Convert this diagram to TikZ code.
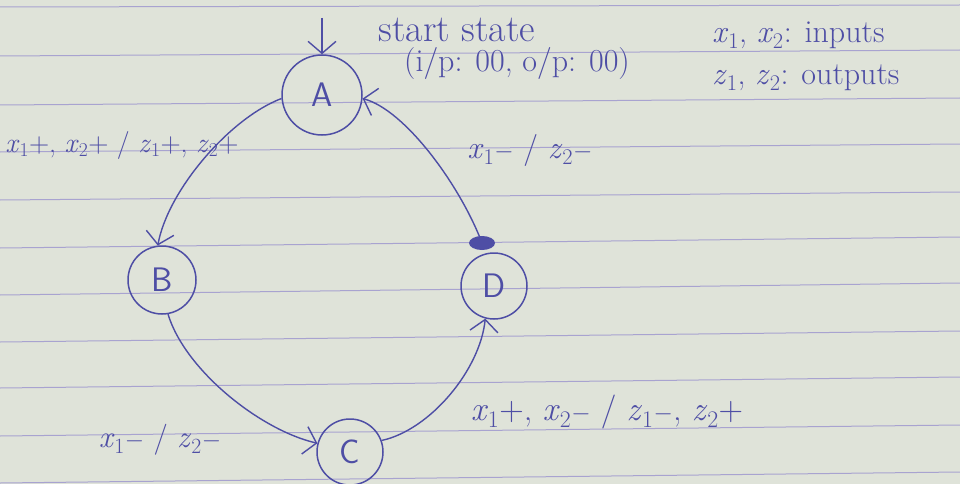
\documentclass[tikz,border=0pt]{standalone}
\usepackage{fontspec}
\usetikzlibrary{arrows.meta}
\definecolor{ink}{RGB}{78,78,165}
\definecolor{paper}{RGB}{223,227,217}
\definecolor{ruling}{RGB}{168,163,208}
\newcommand{\vx}[1]{\textit{x}\textsubscript{#1}}
\newcommand{\vz}[1]{\textit{z}\textsubscript{#1}}
\begin{document}
\begin{tikzpicture}[x=1pt,y=-1pt,
  state/.style={circle,draw=ink,line width=1.5pt,inner sep=0pt,text=ink,
    font=\sffamily\fontsize{34}{34}\selectfont},
  edge/.style={draw=ink,line width=1.4pt,
    -{Straight Barb[length=12pt,width=28pt,line width=1.4pt]}},
  lbl/.style={text=ink,inner sep=0pt,font=\fontsize{28}{32}\selectfont},
  small/.style={text=ink,inner sep=0pt,font=\fontsize{32}{36}\selectfont}]
\fill[paper] (0,0) rectangle (960,484);
\useasboundingbox (0,0) rectangle (960,484);
\foreach \l/\r in {7/5,56/50,105/98,152/144,200/192,248/237,295/283,342/331,388/377,436/425,483/472}
  \draw[ruling,line width=1pt] (0,\l) -- (960,\r);
% states
\node[state,minimum size=80pt] (A) at (322,95) {A};
\node[state,minimum size=68pt] (B) at (162,280) {B};
\node[state,minimum size=66pt] (C) at (350,452) {C};
\node[state,minimum size=66pt] (D) at (494,286) {D};
% start arrow
\coordinate (s) at (322,18);
\draw[edge] (s) -- (A.north);
% transitions
\draw[edge] (A.185) .. controls (230,118) and (168,190) .. (B.97);
\draw[edge] (B.-80) .. controls (185,370) and (260,430) .. (C.165);
\draw[edge] (C.20) .. controls (430,430) and (480,370) .. (D.-105);
\coordinate (blob) at (482,243);
\draw[edge] (blob) .. controls (460,185) and (405,110) .. (A.-5);
\fill[ink] (blob) ellipse [x radius=13pt, y radius=7pt];
% texts
\node[small,font=\fontsize{38}{42}\selectfont] (t1) at (457,30) {start state};
\node[small] (t2) at (517,64) {(i/p: 00, o/p: 00)};
\node[small,anchor=west] (t3) at (712,35) {\vx{1}, \vx{2}: inputs};
\node[small,anchor=west] (t4) at (712,78) {\vz{1}, \vz{2}: outputs};
\node[lbl] (l1) at (122,145) {\vx{1}+, \vx{2}+ / \vz{1}+, \vz{2}+};
\node[lbl,font=\fontsize{32}{36}\selectfont] (l2) at (530,150) {\vx{1}$-$ / \vz{2}$-$};
\node[lbl,font=\fontsize{34}{38}\selectfont] (l3) at (607,412) {\vx{1}+, \vx{2}$-$ / \vz{1}$-$, \vz{2}+};
\node[lbl,font=\fontsize{31}{35}\selectfont] (l4) at (160,440) {\vx{1}$-$ / \vz{2}$-$};
\end{tikzpicture}
\end{document}
